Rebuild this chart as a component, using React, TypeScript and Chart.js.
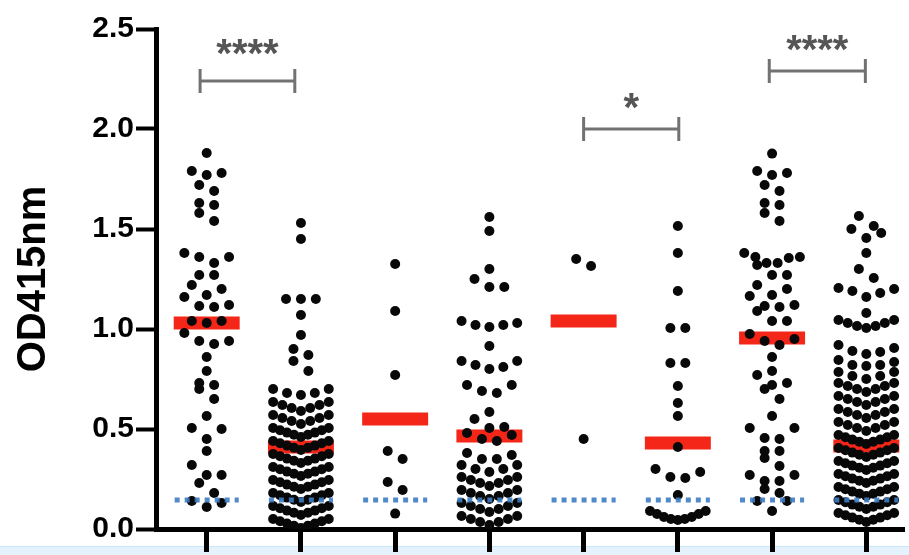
import React, { useEffect, useRef } from 'react';
import { Chart, registerables } from 'chart.js';

Chart.register(...registerables);

// ---------- data ----------
const GROUPS = [1, 2, 3, 4, 5, 6, 7, 8];

const G1 = [1.88, 1.79, 1.77, 1.78, 1.72, 1.69, 1.63, 1.62, 1.58, 1.54, 1.38, 1.36, 1.36, 1.33, 1.27, 1.27,
  1.22, 1.20, 1.17, 1.16, 1.12, 1.11, 1.115, 1.04, 1.04, 1.03, 0.98, 0.94, 0.94, 0.925, 0.86, 0.79, 0.73,
  0.72, 0.70, 0.65, 0.565, 0.505, 0.50, 0.45, 0.39, 0.32, 0.27, 0.27, 0.23, 0.18, 0.14, 0.13, 0.11];

const G2 = [1.53, 1.45, 1.15, 1.15, 1.15, 1.07, 0.97, 0.90, 0.87, 0.84, 0.79, 0.67, 0.68, 0.68, 0.70, 0.70,
  0.59, 0.605, 0.605, 0.62, 0.62, 0.635, 0.635,
  0.525, 0.54, 0.54, 0.555, 0.555, 0.57, 0.57,
  0.46, 0.471, 0.471, 0.482, 0.482, 0.494, 0.494, 0.505, 0.505,
  0.395, 0.406, 0.406, 0.417, 0.417, 0.429, 0.429, 0.44, 0.44,
  0.33, 0.341, 0.341, 0.352, 0.352, 0.364, 0.364, 0.375, 0.375,
  0.265, 0.276, 0.276, 0.287, 0.287, 0.299, 0.299, 0.31, 0.31,
  0.20, 0.211, 0.211, 0.222, 0.222, 0.234, 0.234, 0.245, 0.245,
  0.135, 0.146, 0.146, 0.157, 0.157, 0.169, 0.169, 0.18, 0.18,
  0.07, 0.081, 0.081, 0.092, 0.092, 0.104, 0.104, 0.115, 0.115,
  0.005, 0.016, 0.016, 0.027, 0.027, 0.039, 0.039, 0.05, 0.05];

const G3 = [1.325, 1.09, 0.77, 0.39, 0.35, 0.235, 0.195, 0.077];

const G4 = [1.56, 1.49, 1.30, 1.25, 1.21, 1.21, 1.04, 1.03, 1.02, 1.02, 1.01, 0.915, 0.84, 0.84, 0.82, 0.81,
  0.80, 0.72, 0.72, 0.69, 0.68, 0.585, 0.55, 0.51, 0.505, 0.48, 0.47, 0.45, 0.44,
  0.38, 0.37, 0.35, 0.35,
  0.285, 0.30, 0.30, 0.32, 0.32,
  0.215, 0.23, 0.23, 0.245, 0.245, 0.26, 0.26,
  0.15, 0.165, 0.165, 0.18, 0.18, 0.195, 0.195,
  0.085, 0.10, 0.10, 0.115, 0.115, 0.13, 0.13,
  0.02, 0.035, 0.035, 0.05, 0.05, 0.065, 0.065];

const G5 = [1.35, 1.315, 0.45];

const G6 = [1.515, 1.38, 1.19, 1.005, 1.005, 0.83, 0.83, 0.715, 0.63, 0.565, 0.41, 0.30, 0.285, 0.26, 0.255,
  0.17, 0.09, 0.09, 0.075, 0.075, 0.06, 0.06, 0.05, 0.05, 0.045];

const G7 = [1.877, 1.79, 1.77, 1.78, 1.72, 1.69, 1.63, 1.62, 1.58, 1.54, 1.38, 1.36, 1.36, 1.355, 1.33, 1.33,
  1.32, 1.27, 1.27, 1.22, 1.20, 1.17, 1.165, 1.12, 1.115, 1.11, 1.09, 1.04, 1.04, 0.975, 0.95, 0.94, 0.92,
  0.86, 0.79, 0.77, 0.73, 0.72, 0.70, 0.65, 0.565, 0.505, 0.505, 0.455, 0.45, 0.39, 0.39, 0.355, 0.315,
  0.27, 0.27, 0.24, 0.24, 0.20, 0.18, 0.14, 0.14, 0.09];

const G8 = [1.565, 1.515, 1.50, 1.48, 1.455, 1.38, 1.30, 1.255, 1.205, 1.20, 1.19, 1.18, 1.16, 1.08,
  1.045, 1.045, 1.03, 1.03, 1.015, 1.015, 1.005,
  0.92, 0.905, 0.89, 0.885, 0.875,
  0.845, 0.835, 0.82, 0.82, 0.815,
  0.785, 0.785, 0.765, 0.765, 0.75,
  0.685, 0.70, 0.70, 0.715, 0.715, 0.73, 0.73,
  0.62, 0.635, 0.635, 0.65, 0.65, 0.665, 0.665,
  0.555, 0.57, 0.57, 0.585, 0.585, 0.60, 0.60,
  0.49, 0.505, 0.505, 0.52, 0.52, 0.535, 0.535,
  0.425, 0.436, 0.436, 0.447, 0.447, 0.459, 0.459, 0.47, 0.47,
  0.36, 0.371, 0.371, 0.382, 0.382, 0.394, 0.394, 0.405, 0.405,
  0.295, 0.306, 0.306, 0.317, 0.317, 0.329, 0.329, 0.34, 0.34,
  0.23, 0.241, 0.241, 0.252, 0.252, 0.264, 0.264, 0.275, 0.275,
  0.165, 0.176, 0.176, 0.187, 0.187, 0.199, 0.199, 0.21, 0.21,
  0.10, 0.111, 0.111, 0.122, 0.122, 0.134, 0.134, 0.145, 0.145,
  0.035, 0.046, 0.046, 0.057, 0.057, 0.069, 0.069, 0.08, 0.08];

const SERIES = [G1, G2, G3, G4, G5, G6, G7, G8];

// group means (red bars)
const MEANS = [1.03, 0.41, 0.55, 0.465, 1.04, 0.43, 0.955, 0.415];

// cut-off (blue dotted line)
const CUTOFF = 0.145;

// significance brackets
const BRACKET_FROM = [0.93, 5.0, 6.97];
const BRACKET_TO = [1.935, 6.01, 7.99];
const BRACKET_Y = [2.24, 2.0, 2.29];
const BRACKET_LABEL = ['****', '*', '****'];
const BRACKET_LABEL_Y = [2.425, 2.155, 2.445];

const Y_TICKS = [0, 0.5, 1.0, 1.5, 2.0, 2.5];

// ---------- layout constants ----------
const PX_PER_X = 94.86;   // pixels per category unit
const ROW_H = 0.06;       // value height of one swarm row
const STEP_PX = 15;       // horizontal spacing of dots in a row
const MAX_HALF_PX = 28;   // max half width of a row

function swarm(values: number[], center: number) {
  const sorted = [...values].sort((a, b) => a - b);
  const rows: number[][] = [];
  let cur: number[] = [];
  let start = -Infinity;
  for (const v of sorted) {
    if (cur.length && v - start < ROW_H - 1e-9) cur.push(v);
    else {
      if (cur.length) rows.push(cur);
      cur = [v];
      start = v;
    }
  }
  if (cur.length) rows.push(cur);
  const pts: { x: number; y: number }[] = [];
  for (const row of rows) {
    const n = row.length;
    const step = n > 1 ? Math.min(STEP_PX, (MAX_HALF_PX * 2) / (n - 1)) : 0;
    const slots: number[] = [];
    for (let i = 0; i < n; i++) slots.push((i - (n - 1) / 2) * step);
    slots.sort((a, b) => Math.abs(a) - Math.abs(b) || b - a);
    row.forEach((v, i) => pts.push({ x: center + slots[i] / PX_PER_X, y: v }));
  }
  return pts;
}

const FONT = '"Liberation Sans", Arial, Helvetica, sans-serif';

const bandPlugin = {
  id: 'band',
  beforeDraw(chart: any) {
    const { ctx, width } = chart;
    ctx.save();
    ctx.fillStyle = '#e3f2fc';
    ctx.fillRect(0, 546, width, 9);
    ctx.fillStyle = '#cbe6f7';
    ctx.fillRect(0, 546, width, 1);
    ctx.restore();
  },
};

const starPlugin = {
  id: 'stars',
  afterDatasetsDraw(chart: any) {
    const { ctx } = chart;
    const xs = chart.scales.x;
    const ys = chart.scales.y;
    ctx.save();
    ctx.fillStyle = '#555555';
    ctx.font = `bold 40px ${FONT}`;
    ctx.textAlign = 'center';
    ctx.textBaseline = 'alphabetic';
    BRACKET_LABEL.forEach((label, i) => {
      const px = xs.getPixelForValue((BRACKET_FROM[i] + BRACKET_TO[i]) / 2);
      const py = ys.getPixelForValue(BRACKET_LABEL_Y[i]);
      ctx.fillText(label, px, py + 23);
    });
    ctx.restore();
  },
};

export default function App() {
  const ref = useRef<HTMLCanvasElement>(null);

  useEffect(() => {
    if (!ref.current) return;
    const datasets: any[] = [];

    // red mean bars (behind)
    GROUPS.forEach((g, i) => {
      datasets.push({
        type: 'scatter',
        data: [{ x: g - 0.35, y: MEANS[i] }, { x: g + 0.35, y: MEANS[i] }],
        showLine: true,
        borderColor: 'rgb(244,38,24)',
        borderWidth: 13,
        borderCapStyle: 'butt',
        pointRadius: 0,
        order: 3,
      });
    });

    // dots
    GROUPS.forEach((g, i) => {
      datasets.push({
        type: 'scatter',
        data: swarm(SERIES[i], g),
        pointRadius: 5,
        pointBackgroundColor: '#080808',
        pointBorderWidth: 0,
        borderWidth: 0,
        order: 2,
      });
    });

    // blue dotted cut-off
    GROUPS.forEach((g) => {
      datasets.push({
        type: 'scatter',
        data: [{ x: g - 0.34, y: CUTOFF }, { x: g + 0.34, y: CUTOFF }],
        showLine: true,
        borderColor: 'rgba(62,125,195,0.9)',
        borderWidth: 5,
        borderDash: [5, 5],
        borderCapStyle: 'butt',
        pointRadius: 0,
        order: 1,
      });
    });

    // brackets
    BRACKET_FROM.forEach((f, i) => {
      const t = BRACKET_TO[i];
      const y = BRACKET_Y[i];
      datasets.push({
        type: 'scatter',
        data: [
          { x: f, y: y + 0.06 }, { x: f, y: y - 0.06 }, { x: f, y },
          { x: t, y }, { x: t, y: y + 0.06 }, { x: t, y: y - 0.06 },
        ],
        showLine: true,
        borderColor: '#727272',
        borderWidth: 3,
        borderJoinStyle: 'miter',
        pointRadius: 0,
        order: 0,
      });
    });

    const chart = new Chart(ref.current, {
      type: 'scatter',
      data: { datasets },
      plugins: [bandPlugin, starPlugin],
      options: {
        animation: false,
        responsive: false,
        events: [],
        layout: { padding: { top: 29, right: 0, left: 0, bottom: 0 } },
        plugins: { legend: { display: false }, tooltip: { enabled: false } },
        scales: {
          x: {
            type: 'linear',
            min: 0.462,
            max: 8.40,
            afterBuildTicks: (s: any) => { s.ticks = GROUPS.map((v) => ({ value: v })); },
            afterFit: (s: any) => { s.height = 26; },
            ticks: { display: false },
            grid: { drawOnChartArea: false, drawTicks: true, tickLength: 23, tickWidth: 5, tickColor: '#000' },
            border: { display: true, color: '#000', width: 5 },
          },
          y: {
            type: 'linear',
            min: 0,
            max: 2.5,
            afterBuildTicks: (s: any) => { s.ticks = Y_TICKS.map((v) => ({ value: v })); },
            afterFit: (s: any) => { s.width = 156; },
            ticks: {
              callback: (v: any) => Number(v).toFixed(1),
              font: { family: FONT, size: 30, weight: 'bold' },
              color: '#000',
              padding: 2,
            },
            grid: { drawOnChartArea: false, drawTicks: true, tickLength: 20, tickWidth: 4, tickColor: '#000' },
            border: { display: true, color: '#000', width: 5 },
            title: {
              display: true,
              text: 'OD415nm',
              color: '#000',
              font: { family: FONT, size: 40, weight: 'bold' },
              padding: { top: 10, bottom: 0 },
            },
          },
        },
      } as any,
    });
    return () => chart.destroy();
  }, []);

  return (
    <div style={{ position: 'absolute', left: 0, top: 0, width: 909, height: 555, background: '#fff' }}>
      <canvas ref={ref} width={909} height={555} style={{ display: 'block' }} />
    </div>
  );
}
